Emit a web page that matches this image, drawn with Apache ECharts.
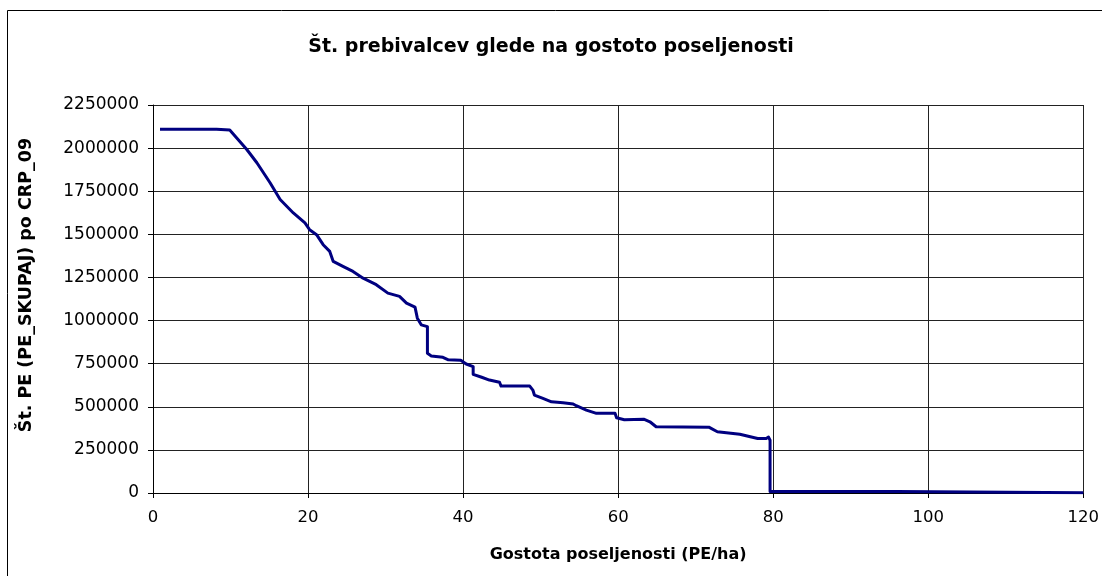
<!DOCTYPE html>
<html>
<head>
<meta charset="utf-8">
<script src="https://cdn.jsdelivr.net/npm/echarts@6/dist/echarts.min.js"></script>
<style>
  html, body { margin: 0; padding: 0; background: #fff; }
  #main { width: 1102px; height: 576px; }
</style>
</head>
<body>
<div id="main"></div>
<script>
// gostota (PE/ha) in št. prebivalcev, odčitano z grafa
const gostota = [
  0.9, 8.2, 9.9, 10.1, 12.1, 13.4, 15.1, 16.4, 18.1, 19.6, 20.2, 21.1, 21.95, 22.8, 23.0, 23.25,
  24.5, 25.8, 27.1, 28.8, 30.3, 31.8, 32.7, 33.8, 34.1, 34.6, 35.4, 35.4, 35.9, 37.4, 38.1,
  39.7, 40.4, 41.3, 41.3, 42.4, 43.4, 44.7, 44.9, 48.6, 49.0, 49.2, 50.3, 51.4, 52.9, 54.2,
  54.6, 55.9, 57.2, 59.6, 59.8, 60.8, 63.3, 64.1, 64.9, 71.7, 72.8, 75.7, 78.0, 79.1, 79.4,
  79.6, 79.6, 96.0, 96.2, 120
];
const prebivalci = [
  2110000, 2110000, 2105000, 2100000, 1992000, 1915000, 1799000, 1702000, 1624000, 1566000, 1527000, 1498000, 1440000, 1401000, 1392000, 1343000,
  1314000, 1285000, 1246000, 1208000, 1159000, 1140000, 1101000, 1078000, 1014000, 975000, 965000, 810000, 795000, 787000, 772000,
  770000, 748000, 733000, 688000, 671000, 655000, 642000, 620000, 620000, 597000, 568000, 549000, 529000, 523000, 516000,
  506000, 481000, 462000, 462000, 436000, 425000, 428000, 413000, 384000, 382000, 355000, 341000, 316000, 316000, 324000,
  306000, 8000, 8000, 2000, 2000
];
const xTicks = [0, 20, 40, 60, 80, 100, 120];
const yTicks = [0, 250000, 500000, 750000, 1000000, 1250000, 1500000, 1750000, 2000000, 2250000];

const chart = echarts.init(document.getElementById('main'));

const tocke = gostota.map((x, i) => [x, prebivalci[i]]);
const txt = '#000';
const mreza = { show: true, lineStyle: { color: '#222', width: 1 } };

const option = {
  animation: false,
  backgroundColor: '#fff',
  title: {
    text: 'Št. prebivalcev glede na gostoto poseljenosti',
    left: 'center',
    top: 33,
    textStyle: { fontFamily: 'DejaVu Sans', fontSize: 19, fontWeight: 'bold', color: txt }
  },
  grid: { left: 153, right: 18, top: 105, bottom: 83 },
  xAxis: {
    type: 'value',
    min: 0,
    max: 120,
    interval: 20,
    name: 'Gostota poseljenosti (PE/ha)',
    nameLocation: 'middle',
    nameGap: 54,
    nameTextStyle: { fontFamily: 'DejaVu Sans', fontSize: 16, fontWeight: 'bold', color: txt },
    axisLine: { show: true, onZero: false, lineStyle: { color: '#000' } },
    axisTick: { show: true, inside: false, length: 5, lineStyle: { color: '#000' } },
    axisLabel: { margin: 16, fontFamily: 'DejaVu Sans', fontSize: 16.5, color: txt,
      formatter: v => xTicks.includes(v) ? String(v) : '' },
    splitLine: mreza
  },
  yAxis: {
    type: 'value',
    min: 0,
    max: 2250000,
    interval: 250000,
    name: 'Št. PE (PE_SKUPAJ) po CRP_09',
    nameLocation: 'middle',
    nameGap: 118,
    nameTextStyle: { fontFamily: 'DejaVu Sans', fontSize: 17.5, fontWeight: 'bold', color: txt,
      padding: [0, 0, 0, 28] },
    axisLine: { show: true, lineStyle: { color: '#000' } },
    axisTick: { show: true, inside: false, length: 5, lineStyle: { color: '#000' } },
    axisLabel: { margin: 14, fontFamily: 'DejaVu Sans', fontSize: 17, color: txt,
      formatter: v => yTicks.includes(v) ? String(v) : '' },
    splitLine: mreza
  },
  graphic: [{
    type: 'rect',
    shape: { x: 7.5, y: 10.5, width: 1200, height: 700 },
    style: { fill: 'none', stroke: '#000', lineWidth: 1 },
    silent: true
  }],
  series: [{
    type: 'line',
    data: tocke,
    showSymbol: false,
    symbol: 'none',
    lineStyle: { color: '#000080', width: 3, join: 'round' },
    z: 5
  }]
};

chart.setOption(option);
</script>
</body>
</html>
